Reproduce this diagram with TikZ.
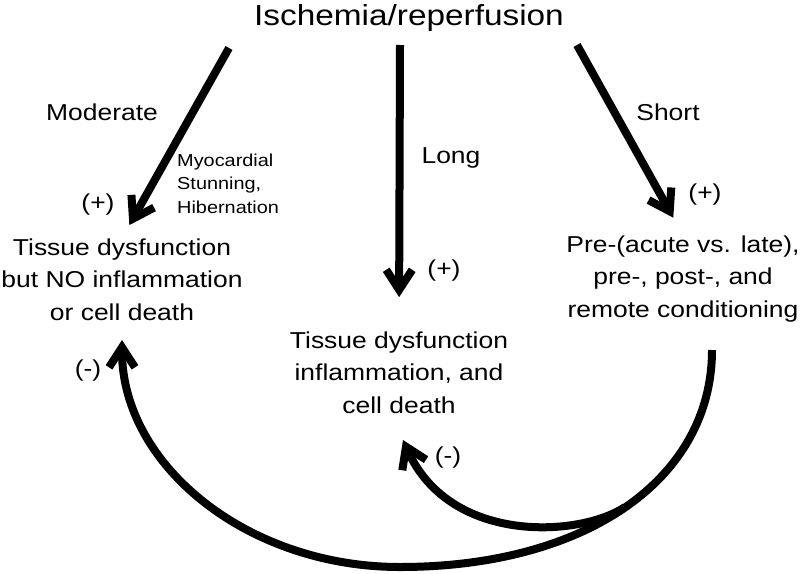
\documentclass[tikz,border=0pt]{standalone}
\usepackage{fontspec}
\setmainfont[FakeStretch=1.15]{Liberation Sans}
\usetikzlibrary{arrows.meta}
\begin{document}
\begin{tikzpicture}[x=1pt,y=-1pt,
  arr/.style={line width=8pt,-{Straight Barb[length=20pt,width=26pt]}},
  body/.style={font=\fontsize{23}{32.5}\selectfont, align=center, inner sep=0pt, anchor=base},
  lab/.style={font=\fontsize{23}{28}\selectfont, inner sep=0pt},
  smalltxt/.style={font=\fontsize{17.3}{23.5}\selectfont, align=left, inner sep=0pt, anchor=base west},
  titletxt/.style={font=\fontsize{29}{34}\selectfont, inner sep=0pt, anchor=base}
]
\useasboundingbox (0,0) rectangle (800,573);

\node[titletxt] (title) at (409,25) {Ischemia/reperfusion};

% base anchor = baseline of the last line
\node[body] (left) at (122,320) {Tissue dysfunction\\but NO inflammation\\or cell death};
\node[body] (mid) at (399,413) {Tissue dysfunction\\inflammation, and\\cell death};
\node[body] (right) at (683,317) {Pre-(acute vs. late),\\pre-, post-, and\\remote conditioning};

\node[lab, anchor=base] (moderate) at (102,120) {Moderate};
\node[lab, anchor=base] (long) at (451,163) {Long};
\node[lab, anchor=base] (short) at (668,120) {Short};
\node[smalltxt] (myo) at (177,213) {Myocardial\\Stunning,\\Hibernation};

\node[lab] (pl) at (98,205) {(+)};
\node[lab] (pm) at (444,271) {(+)};
\node[lab] (pr) at (705,195) {(+)};
\node[lab] (ml) at (88,371) {(-)};
\node[lab] (mm) at (448,458) {(-)};

\coordinate (sL) at (229,48);
\coordinate (sM) at (400,45);
\coordinate (sR) at (577,45);

\draw[arr, shorten >=15pt] (sL) -- (left.north);
\draw[arr, shorten >=34pt] (sM) -- (mid.north);
\draw[arr, shorten >=20pt] (sR) -- (right.north);

\coordinate (cS) at (712,350);
\coordinate (cB) at (400,567);
\coordinate (cE) at (122,340);
\coordinate (cJ) at (625,507);
\coordinate (cT) at (403,440);

\draw[arr] (cS) .. controls (712,480) and (585,567) .. (cB)
               .. controls (247,567) and (122,465) .. (cE);
\draw[arr] (cJ) .. controls (580,537) and (450,545) .. (cT);
\end{tikzpicture}
\end{document}
